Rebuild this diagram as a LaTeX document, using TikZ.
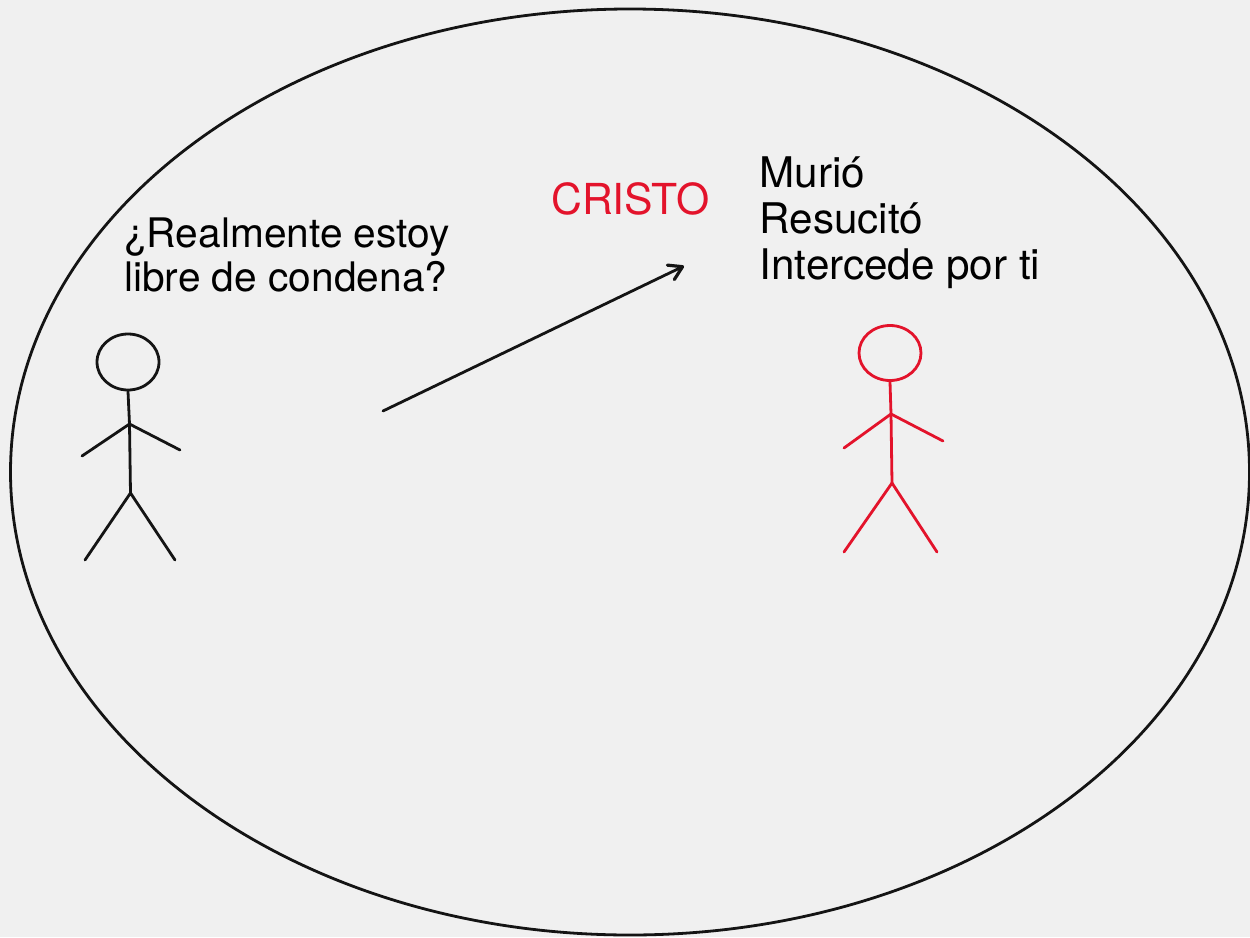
\documentclass[tikz,border=0pt]{standalone}
\usepackage{fontspec}
\setmainfont{TeX Gyre Heros}
\usetikzlibrary{arrows.meta,shapes.geometric}
\definecolor{bg}{HTML}{F0F0F0}
\definecolor{ink}{HTML}{141414}
\definecolor{cred}{HTML}{E3132B}
\tikzset{lab/.style={anchor=base west,inner sep=0pt,font=\fontsize{40.7pt}{40.7pt}\selectfont,text=black},
labb/.style={anchor=base west,inner sep=0pt,font=\fontsize{42.2pt}{42.2pt}\selectfont,text=black},
labc/.style={anchor=base west,inner sep=0pt,font=\fontsize{42.7pt}{42.7pt}\selectfont,text=cred},
fig/.style={line width=2.8pt,line cap=round,line join=round}}
\begin{document}
\begin{tikzpicture}[x=1pt,y=-1pt]
\useasboundingbox (0,0) rectangle (1250,937);
\fill[bg] (0,0) rectangle (1250,937);
\node[draw=ink,line width=2.8pt,ellipse,inner sep=0pt,minimum width=1239pt,minimum height=926pt] (world) at (630,472) {};
% left figure
\node[draw=ink,fig,ellipse,minimum width=62pt,minimum height=56pt,inner sep=0pt] (headL) at (128,362) {};
\coordinate (shL) at (129.5,424);
\coordinate (hipL) at (130.5,493);
\coordinate (haL) at (82,456);
\coordinate (haR) at (180,450);
\coordinate (ftL) at (85,560);
\coordinate (ftR) at (175,560);
\draw[ink,fig] (headL.south) -- (shL) -- (hipL);
\draw[ink,fig] (haL) -- (shL) -- (haR);
\draw[ink,fig] (ftL) -- (hipL) -- (ftR);
% right figure
\node[draw=cred,fig,ellipse,minimum width=62pt,minimum height=55pt,inner sep=0pt] (headR) at (890,353) {};
\coordinate (shR) at (891,414);
\coordinate (hipR) at (892,483);
\coordinate (raL) at (844,448);
\coordinate (raR) at (943,441);
\coordinate (rfL) at (844,552);
\coordinate (rfR) at (937,552);
\draw[cred,fig] (headR.south) -- (shR) -- (hipR);
\draw[cred,fig] (raL) -- (shR) -- (raR);
\draw[cred,fig] (rfL) -- (hipR) -- (rfR);
% arrow
\coordinate (a0) at (383,411);
\coordinate (a1) at (684,266);
\draw[ink,line width=2.8pt,line cap=round,-{Straight Barb[length=13pt,width=16pt,line width=3.2pt,round]}] (a0) -- (a1);
% text
\node[lab] (q1) at (124,247) {¿Realmente estoy};
\node[lab] (q2) at (124,291.5) {libre de condena?};
\node[labc] (cr) at (551,214) {CRISTO};
\node[labb] (m1) at (759.5,187.5) {Murió};
\node[labb] (m2) at (759.5,233.5) {Resucitó};
\node[labb] (m3) at (759.5,279.5) {Intercede por ti};
\end{tikzpicture}
\end{document}
